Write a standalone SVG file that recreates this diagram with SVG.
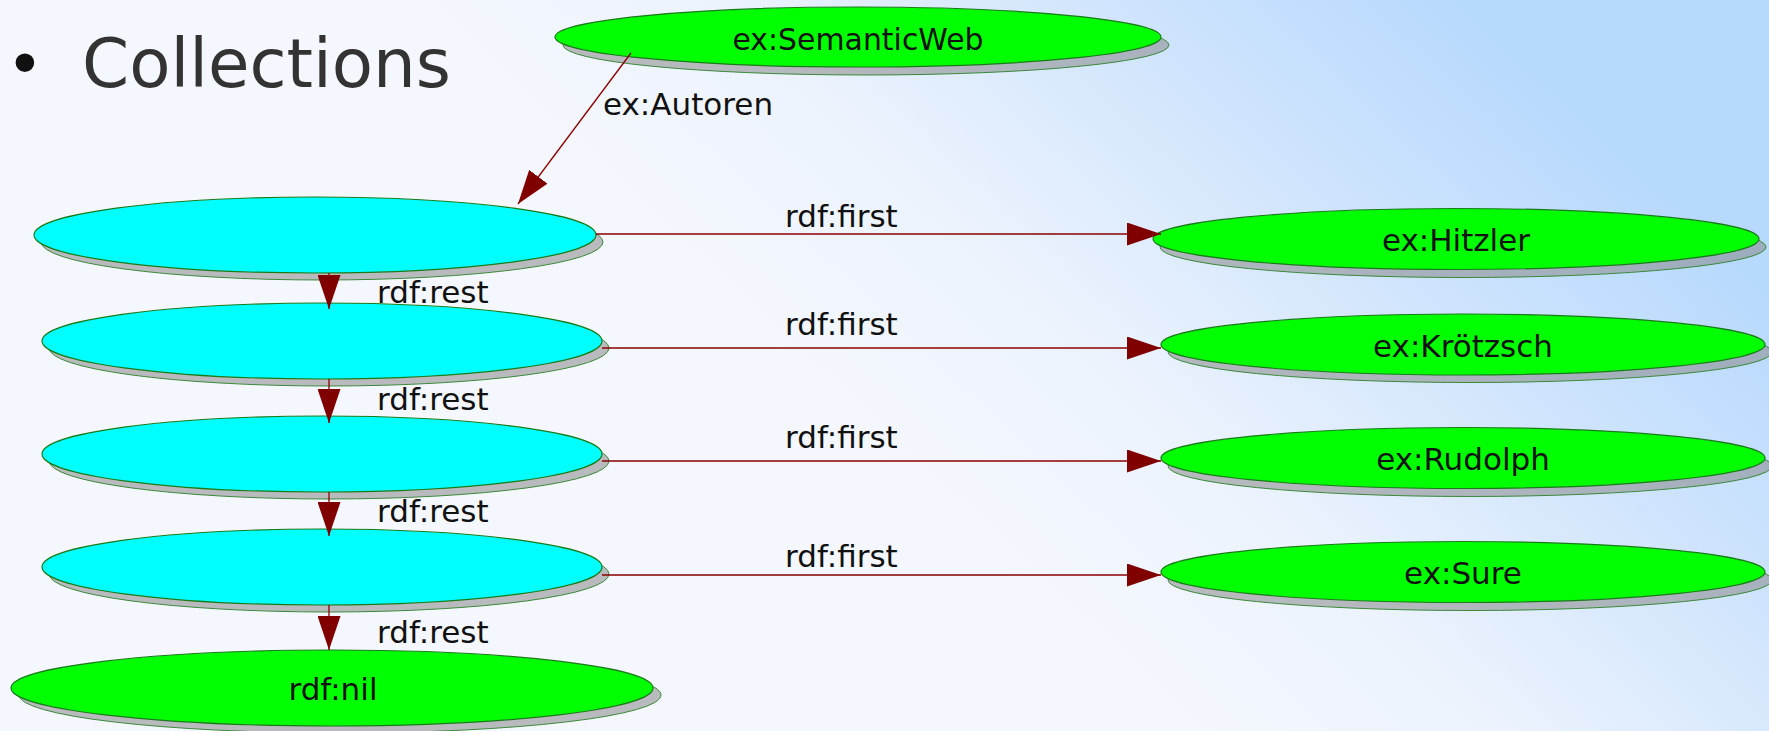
<svg xmlns="http://www.w3.org/2000/svg" width="1769" height="731" viewBox="0 0 1769 731">
<defs>
<linearGradient id="bg" x1="0.5" y1="0.62" x2="1" y2="0.4">
<stop offset="0" stop-color="#f4f7fd"/>
<stop offset="0.3" stop-color="#ecf3fd"/>
<stop offset="0.62" stop-color="#d3e6fc"/>
<stop offset="1" stop-color="#b7d9fd"/>
</linearGradient>
<marker id="ah" viewBox="0 0 34 23" markerUnits="userSpaceOnUse" markerWidth="34" markerHeight="23" refX="34" refY="11.5" orient="auto">
<path d="M0,0 L34,11.5 L0,23 z" fill="#800000"/>
</marker>
<style>
.shadow{fill:#888888;fill-opacity:0.55;stroke:#3a8a3a;stroke-width:1}
.blank{fill:#00ffff;stroke:#1a7a1a;stroke-width:1.2}
.res{fill:#00ff00;stroke:#1a7a1a;stroke-width:1.2}
.nl{font-family:"DejaVu Sans",sans-serif;font-size:31px;fill:#111;text-anchor:middle}
.el{font-family:"DejaVu Sans",sans-serif;font-size:31px;fill:#111}
.edge{stroke:#8b0000;stroke-width:1.3;fill:none;marker-end:url(#ah)}
</style>
</defs>
<rect width="1769" height="731" fill="url(#bg)"/>
<g id="title">
<text x="6" y="87" font-family="DejaVu Sans,sans-serif" font-size="64" fill="#111">•</text>
<text x="82" y="87" font-family="DejaVu Sans,sans-serif" font-size="67.5" fill="#333">Collections</text>
</g>
<g id="n-semanticweb">
<ellipse class="shadow" cx="866" cy="45" rx="303" ry="30"/>
<ellipse class="res" cx="858" cy="37" rx="303" ry="30"/>
<text class="nl" x="858" y="50" textLength="251" lengthAdjust="spacingAndGlyphs">ex:SemanticWeb</text>
</g>
<g id="n-blank1">
<ellipse class="shadow" cx="322" cy="242" rx="281" ry="38"/>
<ellipse class="blank" cx="315" cy="235" rx="281" ry="38"/>
</g>
<g id="n-blank2">
<ellipse class="shadow" cx="329" cy="348" rx="280" ry="38"/>
<ellipse class="blank" cx="322" cy="341" rx="280" ry="38"/>
</g>
<g id="n-blank3">
<ellipse class="shadow" cx="329" cy="461" rx="280" ry="38"/>
<ellipse class="blank" cx="322" cy="454" rx="280" ry="38"/>
</g>
<g id="n-blank4">
<ellipse class="shadow" cx="329" cy="574" rx="280" ry="38"/>
<ellipse class="blank" cx="322" cy="567" rx="280" ry="38"/>
</g>
<g id="n-nil">
<ellipse class="shadow" cx="340" cy="695" rx="321" ry="38"/>
<ellipse class="res" cx="332" cy="688" rx="321" ry="38"/>
<text class="nl" x="333" y="700">rdf:nil</text>
</g>
<g id="n-hitzler">
<ellipse class="shadow" cx="1463" cy="247" rx="303" ry="30.5"/>
<ellipse class="res" cx="1456" cy="239" rx="303" ry="30.5"/>
<text class="nl" x="1456" y="251">ex:Hitzler</text>
</g>
<g id="n-kroetzsch">
<ellipse class="shadow" cx="1470" cy="352" rx="302" ry="30.5"/>
<ellipse class="res" cx="1463" cy="344.5" rx="302" ry="30.5"/>
<text class="nl" x="1463" y="357">ex:Krötzsch</text>
</g>
<g id="n-rudolph">
<ellipse class="shadow" cx="1470" cy="466" rx="302" ry="30.5"/>
<ellipse class="res" cx="1463" cy="458" rx="302" ry="30.5"/>
<text class="nl" x="1463" y="470">ex:Rudolph</text>
</g>
<g id="n-sure">
<ellipse class="shadow" cx="1470" cy="580" rx="302" ry="30.5"/>
<ellipse class="res" cx="1463" cy="572" rx="302" ry="30.5"/>
<text class="nl" x="1463" y="584">ex:Sure</text>
</g>
<g id="connectors">
<line class="edge" x1="631" y1="53" x2="518" y2="204"/>
<text class="el" x="603" y="115">ex:Autoren</text>
<line class="edge" x1="596" y1="234" x2="1161" y2="234"/>
<line class="edge" x1="602" y1="348" x2="1161" y2="348"/>
<line class="edge" x1="602" y1="461" x2="1161" y2="461"/>
<line class="edge" x1="602" y1="575" x2="1161" y2="575"/>
<text class="el" x="785" y="227">rdf:first</text>
<text class="el" x="785" y="335">rdf:first</text>
<text class="el" x="785" y="448">rdf:first</text>
<text class="el" x="785" y="567">rdf:first</text>
<line class="edge" x1="329" y1="273" x2="329" y2="309"/>
<line class="edge" x1="329" y1="379" x2="329" y2="423"/>
<line class="edge" x1="329" y1="492" x2="329" y2="536"/>
<line class="edge" x1="329" y1="605" x2="329" y2="650"/>
<text class="el" x="377" y="303">rdf:rest</text>
<text class="el" x="377" y="410">rdf:rest</text>
<text class="el" x="377" y="522">rdf:rest</text>
<text class="el" x="377" y="643">rdf:rest</text>
</g>
</svg>
